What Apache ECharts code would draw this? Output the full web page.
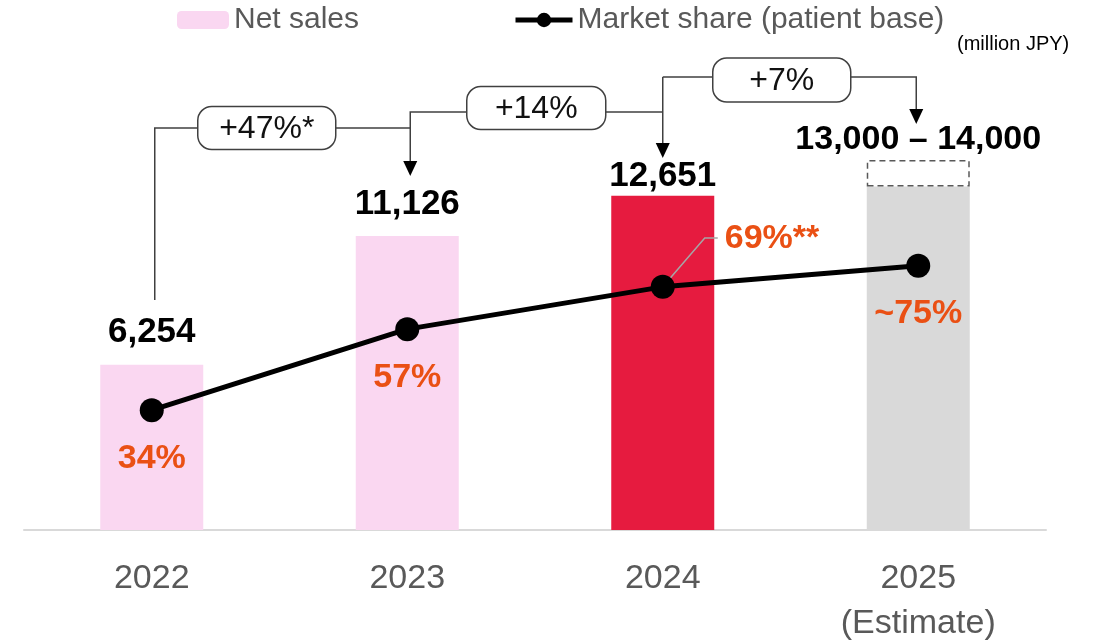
<!DOCTYPE html>
<html>
<head>
<meta charset="utf-8">
<script src="https://cdn.jsdelivr.net/npm/echarts@6/dist/echarts.min.js"></script>
<style>
  html, body { margin: 0; padding: 0; background: #fff; }
  #chart { width: 1107px; height: 642px; }
</style>
</head>
<body>
<div id="chart"></div>
<script>
var years = ['2022', '2023', '2024', '2025\n(Estimate)'];
var netSales = [6254, 11126, 12651, 13000];
var estimateRange = [null, null, null, 1000];
var salesLabels = ['6,254', '11,126', '12,651', ''];
var rangeLabel = '13,000 – 14,000';
var marketShare = [34, 57, 69, 75];
var shareLabels = ['34%', '57%', '69%**', '~75%'];
var growthLabels = ['+47%*', '+14%', '+7%'];

var barColors = ['#fad7f1', '#fad7f1', '#e61b3f', '#d9d9d9'];
var labelDist = [15, 14, 2, 0];
var font = '"Liberation Sans", Arial, sans-serif';

var myChart = echarts.init(document.getElementById('chart'));

var barData = netSales.map(function (v, i) {
  return {
    value: v,
    itemStyle: { color: barColors[i] },
    label: { distance: labelDist[i] }
  };
});

option = {
  animation: false,
  textStyle: { fontFamily: font },
  grid: { left: 24, right: 61, top: 160, bottom: 112, outerBoundsMode: 'none', containLabel: false },
  legend: [
    {
      left: 177, top: 5, padding: 0,
      data: ['Net sales'],
      itemWidth: 52, itemHeight: 18,
      itemGap: 7,
      textStyle: { fontSize: 30, color: '#595959', fontFamily: font }
    },
    {
      left: 513, top: 5, padding: 0,
      data: ['Market share (patient base)'],
      itemWidth: 57, itemHeight: 18,
      lineStyle: { width: 5 },
      textStyle: { fontSize: 30, color: '#595959', fontFamily: font }
    }
  ],
  xAxis: {
    type: 'category',
    data: years,
    axisLine: { lineStyle: { color: '#d9d9d9', width: 2 } },
    axisTick: { show: false },
    axisLabel: { fontSize: 34, color: '#595959', margin: 26, lineHeight: 45, fontFamily: font }
  },
  yAxis: [
    { type: 'value', min: 0, max: 14000, show: false },
    { type: 'value', min: 0, max: 105, show: false }
  ],
  series: [
    {
      name: 'Net sales',
      type: 'bar',
      stack: 'sales',
      barWidth: 103,
      itemStyle: { color: '#fad7f1' },
      data: barData,
      label: {
        show: true,
        position: 'top',
        fontSize: 35,
        fontWeight: 'bold',
        color: '#000',
        fontFamily: font,
        formatter: function (p) { return salesLabels[p.dataIndex]; }
      }
    },
    {
      name: 'range',
      type: 'bar',
      stack: 'sales',
      barWidth: 103,
      data: estimateRange,
      itemStyle: { color: '#fff', borderColor: '#595959', borderWidth: 1.5, borderType: [6, 4] },
      label: {
        show: true,
        position: 'top',
        distance: 3,
        fontSize: 34,
        fontWeight: 'bold',
        color: '#000',
        fontFamily: font,
        formatter: function () { return rangeLabel; }
      }
    },
    {
      name: 'Market share (patient base)',
      type: 'line',
      yAxisIndex: 1,
      data: marketShare,
      symbol: 'circle',
      symbolSize: 24,
      itemStyle: { color: '#000' },
      lineStyle: { color: '#000', width: 5 },
      z: 5,
      label: {
        show: true,
        position: 'bottom',
        distance: 19,
        fontSize: 34,
        fontWeight: 'bold',
        color: '#ea5014',
        fontFamily: font,
        formatter: function (p) { return p.dataIndex === 2 ? '' : shareLabels[p.dataIndex]; }
      }
    }
  ]
};

myChart.setOption(option);

// annotations placed from the chart's own scales
var cx = years.map(function (y) { return myChart.convertToPixel({ xAxisIndex: 0 }, y); });
var p69 = myChart.convertToPixel({ xAxisIndex: 0, yAxisIndex: 1 }, [years[2], marketShare[2]]);

var lineStyle = { stroke: '#404040', lineWidth: 1.5 };
function line(pts) {
  return { type: 'polyline', shape: { points: pts }, style: lineStyle, z: 10 };
}
function arrow(x, tipY) {
  return {
    type: 'polygon', z: 10,
    shape: { points: [[x - 7, tipY - 15], [x + 7, tipY - 15], [x, tipY]] },
    style: { fill: '#000' }
  };
}
function box(x, y, w, h, text) {
  return {
    type: 'group', z: 20, x: x - w / 2, y: y - h / 2,
    children: [
      { type: 'rect', z: 20, shape: { x: 0, y: 0, width: w, height: h, r: 14 }, style: { fill: '#fff', stroke: '#404040', lineWidth: 1.5 } },
      { type: 'text', z: 21, x: w / 2, y: h / 2 + 1, style: { text: text, fontSize: 32, fontFamily: font, fill: '#111', align: 'center', verticalAlign: 'middle' } }
    ]
  };
}

var x0 = cx[0] + 3, x1 = cx[1] + 3, x2 = cx[2], x3 = cx[3] - 2;
myChart.setOption({
  graphic: [
    line([[x0, 300], [x0, 128], [x1, 128], [x1, 162]]),
    arrow(x1, 176),
    line([[x1, 128], [x1, 112], [x2, 112]]),
    line([[x2, 77], [x2, 144]]),
    arrow(x2, 158),
    line([[x2, 77], [x3, 77], [x3, 110]]),
    arrow(x3, 124),
    box(x0 + 112, 128, 138, 43, growthLabels[0]),
    box(x1 + 126, 108, 139, 43, growthLabels[1]),
    box(x2 + 119, 80, 138, 44, growthLabels[2]),
    {
      type: 'polyline', z: 4,
      shape: { points: [[p69[0], p69[1]], [p69[0] + 42, 238], [p69[0] + 55, 238]] },
      style: { stroke: '#a6a6a6', lineWidth: 1.5 }
    },
    {
      type: 'text', z: 11, x: p69[0] + 62, y: 239,
      style: { text: shareLabels[2], fontSize: 34, fontWeight: 'bold', fontFamily: font, fill: '#ea5014', verticalAlign: 'middle' }
    },
    {
      type: 'text', z: 11, x: 957, y: 34,
      style: { text: '(million JPY)', fontSize: 20, fontFamily: font, fill: '#000' }
    }
  ]
});

window.addEventListener('resize', function () {
  myChart.resize();
});
</script>
</body>
</html>
